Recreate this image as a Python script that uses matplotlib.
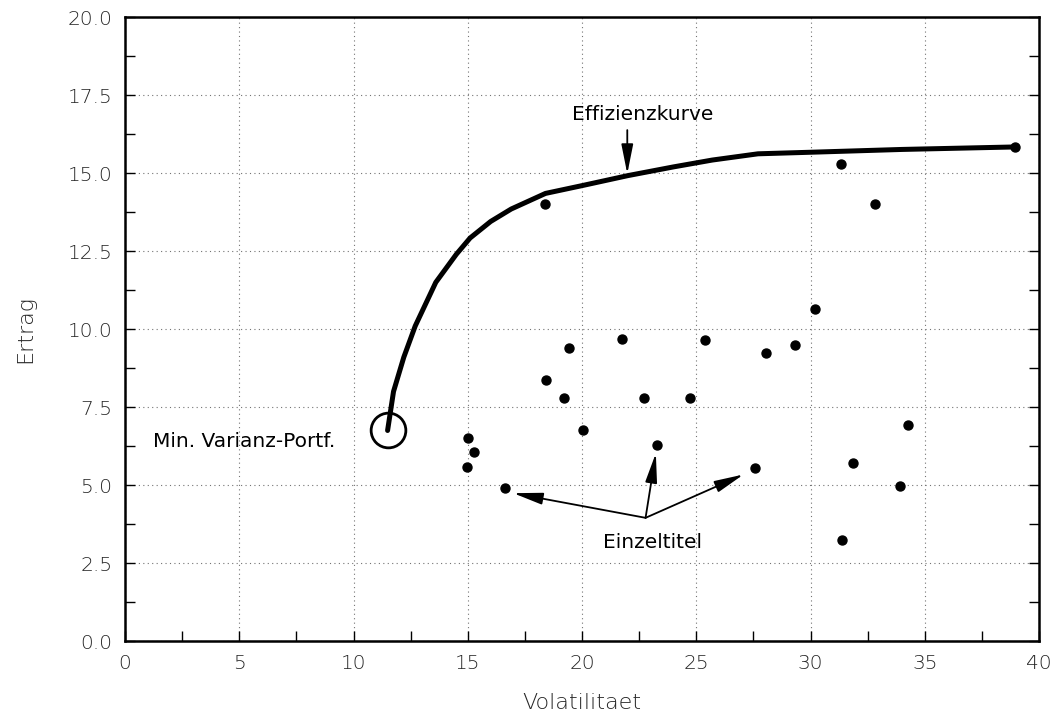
import matplotlib
matplotlib.use('Agg')
import matplotlib.pyplot as plt
from matplotlib.ticker import MultipleLocator

# Einzeltitel (Volatilitaet, Ertrag)
vol = [18.40, 31.35, 32.84, 30.18, 19.42, 21.74, 25.37, 28.05, 29.30, 18.42,
       19.20, 22.71, 24.71, 20.05, 15.00, 15.29, 14.96, 16.64, 23.26, 27.58,
       34.28, 31.87, 33.93, 31.38, 38.95]
ret = [14.00, 15.30, 14.00, 10.66, 9.38, 9.69, 9.64, 9.25, 9.48, 8.37,
       7.80, 7.80, 7.80, 6.75, 6.52, 6.05, 5.58, 4.90, 6.30, 5.55,
       6.94, 5.70, 4.97, 3.24, 15.84]

# Effizienzkurve
curve_vol = [11.49, 11.75, 12.2, 12.7, 13.6, 14.5, 15.1, 16.0, 16.9, 18.4,
             20.0, 22.0, 24.0, 25.7, 27.7, 30.0, 34.0, 38.95]
curve_ret = [6.75, 8.0, 9.1, 10.1, 11.5, 12.4, 12.92, 13.45, 13.85, 14.35,
             14.6, 14.92, 15.2, 15.42, 15.62, 15.67, 15.76, 15.84]

min_var = (11.49, 6.75)
einzel_origin = (22.78, 3.95)
einzel_targets = [(16.99, 4.74), (23.23, 6.02), (27.07, 5.34)]

fig = plt.figure(figsize=(10.57, 7.16), dpi=100)
ax = fig.add_axes([0.1183, 0.1047, 0.8647, 0.8713])

ax.plot(curve_vol, curve_ret, color='black', lw=3.6, solid_capstyle='round', zorder=3)
ax.scatter(vol, ret, s=42, color='black', zorder=4)
ax.plot([min_var[0]], [min_var[1]], marker='o', ms=25, mfc='none', mec='black', mew=2.0, zorder=4)

tfont = dict(family='DejaVu Sans', fontsize=14.5)
ax.text(1.23, 6.21, 'Min. Varianz-Portf.', ha='left', va='baseline', **tfont)
ax.text(22.66, 16.7, 'Effizienzkurve', ha='center', va='baseline', **tfont)
ax.text(23.07, 2.99, 'Einzeltitel', ha='center', va='baseline', **tfont)

arrow = dict(arrowstyle='-|>,head_length=1.0,head_width=0.2', mutation_scale=18,
             color='black', lw=1.3, shrinkA=0, shrinkB=0)
ax.annotate('', xy=(21.98, 14.98), xytext=(21.98, 16.38), arrowprops=arrow, zorder=5)
for tx, ty in einzel_targets:
    ax.annotate('', xy=(tx, ty), xytext=einzel_origin, arrowprops=arrow, zorder=5)

ax.set_xlim(0, 40)
ax.set_ylim(0, 20)
ax.xaxis.set_major_locator(MultipleLocator(5))
ax.xaxis.set_minor_locator(MultipleLocator(2.5))
ax.yaxis.set_major_locator(MultipleLocator(2.5))
ax.yaxis.set_minor_locator(MultipleLocator(1.25))
ax.yaxis.set_major_formatter(matplotlib.ticker.FormatStrFormatter('%.1f'))
ax.tick_params(which='both', direction='in', length=7, width=1.0, top=False, right=True)
ax.tick_params(which='major', labelsize=14.5, pad=9, labelcolor='0.15')
for lab in ax.get_xticklabels() + ax.get_yticklabels():
    lab.set_fontweight('light')
ax.grid(True, which='major', linestyle=(0, (1, 3)), color='0.45', lw=0.8)
for sp in ax.spines.values():
    sp.set_linewidth(1.8)

ax.set_xlabel('Volatilitaet', fontsize=16, fontweight='light', color='0.15')
ax.set_ylabel('Ertrag', fontsize=16, fontweight='light', color='0.15')
ax.xaxis.set_label_coords(0.5, -0.083)
ax.yaxis.set_label_coords(-0.098, 0.5)

fig.savefig('out.png', dpi=100)
